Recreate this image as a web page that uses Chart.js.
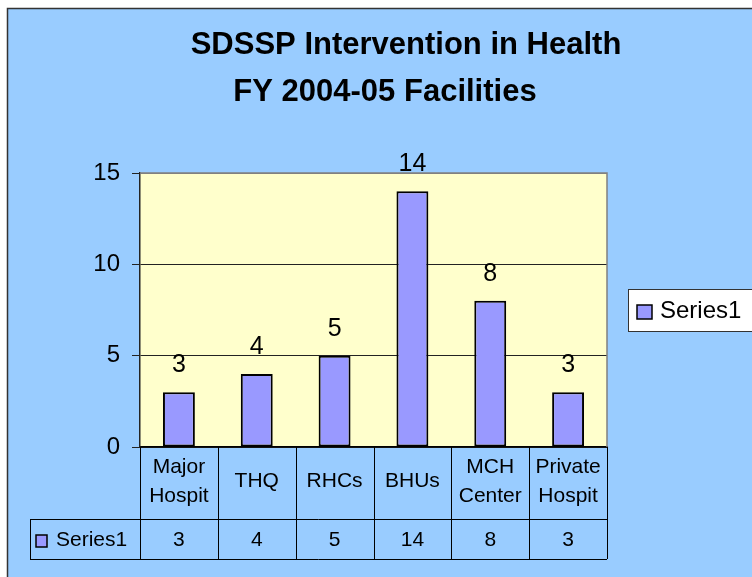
<!DOCTYPE html>
<html>
<head>
<meta charset="utf-8">
<script src="https://cdn.jsdelivr.net/npm/chart.js@4"></script>
<style>
  html, body { margin: 0; padding: 0; background: #fff; }
  canvas { display: block; }
</style>
</head>
<body>
<canvas id="chart" width="752" height="577"></canvas>
<script>
const categories = [["Major", "Hospit"], ["THQ"], ["RHCs"], ["BHUs"], ["MCH", "Center"], ["Private", "Hospit"]];
const seriesName = "Series1";
const values = [3, 4, 5, 14, 8, 3];
const yTicks = [0, 5, 10, 15];
const titleLines = ["SDSSP Intervention in Health", "FY 2004-05 Facilities"];

const FONT = '"Liberation Sans", Arial, sans-serif';
const BAR_FILL = "#9999FF";

// background, plot area, title
const frame = {
  id: "frame",
  beforeDraw(chart) {
    const ctx = chart.ctx;
    const a = chart.chartArea;
    ctx.save();
    ctx.fillStyle = "#fff";
    ctx.fillRect(0, 0, chart.width, chart.height);
    ctx.fillStyle = "#99CCFF";
    ctx.fillRect(7, 8, chart.width, chart.height);
    ctx.strokeStyle = "#333";
    ctx.lineWidth = 1.5;
    ctx.beginPath();
    ctx.moveTo(7.5, chart.height + 2);
    ctx.lineTo(7.5, 8.5);
    ctx.lineTo(chart.width + 2, 8.5);
    ctx.stroke();
    ctx.fillStyle = "#FFFFCC";
    ctx.fillRect(a.left, a.top, a.right - a.left, a.bottom - a.top);

    ctx.fillStyle = "#000";
    ctx.font = "bold 31px " + FONT;
    ctx.textAlign = "center";
    ctx.textBaseline = "alphabetic";
    ctx.fillText(titleLines[0], 406, 54);
    ctx.fillText(titleLines[1], 385, 101);
    ctx.restore();
  },
  afterDraw(chart) {
    const ctx = chart.ctx;
    const a = chart.chartArea;
    ctx.save();
    ctx.strokeStyle = "#808080";
    ctx.lineWidth = 1.5;
    ctx.beginPath();
    ctx.moveTo(a.left, a.top);
    ctx.lineTo(a.right, a.top);
    ctx.lineTo(a.right, a.bottom);
    ctx.stroke();
    ctx.restore();
  }
};

// values above bars
const barLabels = {
  id: "barLabels",
  afterDatasetsDraw(chart) {
    const ctx = chart.ctx;
    const meta = chart.getDatasetMeta(0);
    ctx.save();
    ctx.fillStyle = "#000";
    ctx.font = "25px " + FONT;
    ctx.textAlign = "center";
    ctx.textBaseline = "alphabetic";
    meta.data.forEach((bar, i) => {
      ctx.fillText(String(values[i]), bar.x, bar.y - 20);
    });
    ctx.restore();
  }
};

// data table under the plot + legend on the right
const table = {
  id: "table",
  afterDraw(chart) {
    const ctx = chart.ctx;
    const a = chart.chartArea;
    const xs = chart.scales.x;
    const half = (a.right - a.left) / categories.length / 2;
    const rowTop = a.bottom, rowMid = 519, rowBot = 559, leftEdge = 30;
    ctx.save();
    ctx.strokeStyle = "#000";
    ctx.lineWidth = 1;
    ctx.beginPath();
    for (let i = 0; i <= categories.length; i++) {
      const x = Math.round(i < categories.length ? xs.getPixelForValue(i) - half : a.right) + 0.5;
      ctx.moveTo(x, rowTop);
      ctx.lineTo(x, rowBot);
    }
    ctx.moveTo(leftEdge + 0.5, rowMid);
    ctx.lineTo(leftEdge + 0.5, rowBot);
    ctx.moveTo(leftEdge, rowMid + 0.5);
    ctx.lineTo(a.right, rowMid + 0.5);
    ctx.moveTo(leftEdge, rowBot + 0.5);
    ctx.lineTo(a.right, rowBot + 0.5);
    ctx.stroke();

    ctx.fillStyle = "#000";
    ctx.font = "21px " + FONT;
    ctx.textAlign = "center";
    ctx.textBaseline = "middle";
    categories.forEach((lines, i) => {
      const x = xs.getPixelForValue(i);
      if (lines.length === 1) {
        ctx.fillText(lines[0], x, 481);
      } else {
        ctx.fillText(lines[0], x, 467);
        ctx.fillText(lines[1], x, 496);
      }
      ctx.fillText(String(values[i]), x, 540);
    });

    // series key in table
    ctx.fillStyle = BAR_FILL;
    ctx.fillRect(36, 535, 11, 12);
    ctx.lineWidth = 1.5;
    ctx.strokeRect(36, 535, 11, 12);
    ctx.fillStyle = "#000";
    ctx.textAlign = "left";
    ctx.fillText(seriesName, 56, 540);

    // legend
    ctx.fillStyle = "#fff";
    ctx.fillRect(628, 289, 140, 42);
    ctx.strokeStyle = "#333";
    ctx.lineWidth = 1;
    ctx.strokeRect(628.5, 289.5, 140, 42);
    ctx.fillStyle = BAR_FILL;
    ctx.fillRect(637, 305, 15, 14);
    ctx.strokeStyle = "#000";
    ctx.lineWidth = 1.5;
    ctx.strokeRect(637, 305, 15, 14);
    ctx.fillStyle = "#000";
    ctx.font = "24px " + FONT;
    ctx.textBaseline = "alphabetic";
    ctx.fillText(seriesName, 660, 318);
    ctx.restore();
  }
};

new Chart(document.getElementById("chart"), {
  type: "bar",
  data: {
    labels: categories,
    datasets: [
      {
        label: seriesName,
        data: values,
        backgroundColor: BAR_FILL,
        borderColor: "#000",
        borderWidth: 2,
        borderSkipped: false,
        barPercentage: 0.41,
        categoryPercentage: 1
      }
    ]
  },
  options: {
    responsive: false,
    animation: false,
    events: [],
    layout: { padding: { left: 0, top: 173, right: 145, bottom: 130 } },
    plugins: {
      legend: { display: false },
      title: { display: false },
      tooltip: { enabled: false }
    },
    scales: {
      x: {
        grid: { display: false },
        border: { display: true, color: "#000", width: 1.5 },
        ticks: { display: false },
        afterFit: (s) => { s.height = 0; }
      },
      y: {
        min: yTicks[0],
        max: yTicks[yTicks.length - 1],
        afterBuildTicks: (s) => { s.ticks = yTicks.map((v) => ({ value: v })); },
        grid: {
          color: (c) => (c.tick && c.tick.value === 15 ? "#808080" : "#222"),
          tickColor: "#222",
          tickLength: 8,
          lineWidth: 1
        },
        border: { display: true, color: "#222", width: 1.5 },
        ticks: {
          color: "#000",
          font: { family: FONT, size: 24 },
          padding: 12
        },
        afterFit: (s) => { s.width = 140; }
      }
    }
  },
  plugins: [frame, barLabels, table]
});
</script>
</body>
</html>
